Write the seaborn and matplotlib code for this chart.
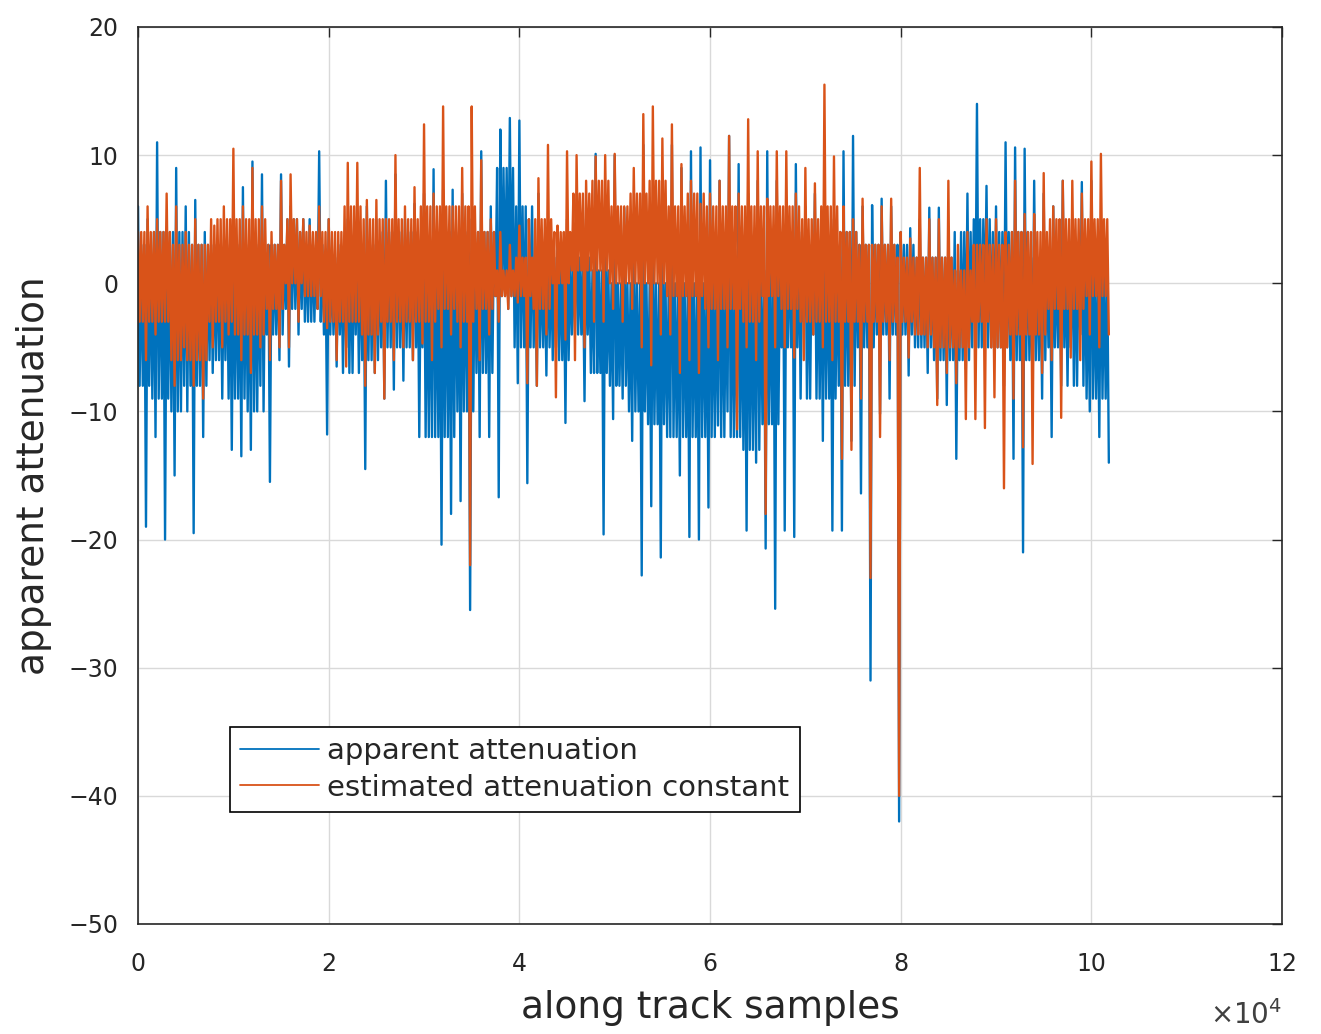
import numpy as np
import pandas as pd
import matplotlib
matplotlib.use("Agg")
import matplotlib.pyplot as plt
import seaborn as sns

# ---- data: per-bin (1000 samples) extreme values ----
bin_size = 1000
blue_hi = [6, 5, 11, 4, 9, 6, 6.5, 4, 3, 2,
           4, 7.5, 9.5, 8.5, 3, 8.5, 6, 4, 5, 10.3,
           5, 3, 5, 3, 6, 5, 8, 8.5, 5, 6.2,
           7, 8.9, 7.3, 7.3, 7, 5, 10.3, 6, 12, 12.9,
           12.7, 5, 7, 4, 3, 5, 6, 5, 10.1, 6,
           10, 5.9, 5, 10.8, 5, 8, 10.8, 9, 10.3, 10.6,
           9.6, 8, 11.5, 9.3, 7, 8, 10.3, 8, 5, 9.3,
           6, 7, 6, 5, 10.3, 11.5, 6, 6.1, 6.6, 6,
           4, 4.3, 5, 5.9, 5.9, 4, 1, 7, 14, 7.6,
           6, 11, 10.6, 10.5, 8, 7, 6, 8, 5, 7.9,
           8, 5]
blue_lo = [-19, -12, -20, -15, -8, -19.5, -12, -7, -9, -13,
           -13.5, -13, -8, -15.5, -6, -6.5, -4, -3, -2, -11.8,
           -6.5, -5, -4, -14.5, -7, -9, -8.3, -7.6, -6, -5,
           -12, -20.4, -18, -17, -25.5, -12, -12, -16.7, -2, -7.8,
           -15.6, -8, -7.2, -5, -10.9, -4, -9.2, -7, -19.6, -10.6,
           -9, -12.3, -22.8, -17.4, -21.4, -12, -15, -19.8, -20, -17.5,
           -11.1, -10, -12, -19.3, -14, -20.7, -25.4, -19.3, -19.8, -3,
           -4, -12.3, -19.3, -19.3, -12.3, -16.4, -31, -10.2, -9, -42,
           -7.2, -5, -7, -9, -9.5, -13.7, -6.7, -4, -3, -5,
           -8, -13.7, -21, -9, -9, -12, -8, -5, -4, -10,
           -12, -14]
orange_hi = [4, 6, 5, 7, 6, 4, 5, 3, 4.5, 6,
             10.5, 6, 9, 6, 4, 8, 8.5, 4, 4.5, 6,
             5, 4, 9.4, 9.4, 6.5, 6.5, 5, 10, 6, 7.5,
             12.4, 7, 13.8, 6, 9, 13.8, 9.6, 5, 4, 3,
             4.5, 5, 8.2, 10.8, 4.5, 10.3, 10, 8, 9.9, 10,
             10.1, 6, 9, 13.2, 13.8, 11.3, 12.4, 9.3, 8, 6.2,
             7, 8, 11.5, 7, 12.8, 10.3, 6.6, 10.3, 10.3, 7,
             9, 7.8, 15.5, 9.9, 6, 5, 6.6, 3, 6, 6.6,
             4, 3.5, 9, 5, 5, 8, 3, 4, 3, 5,
             5, 4, 8, 5.4, 5.4, 8.6, 6, 8, 8, 7,
             9.5, 10.1]
orange_lo = [-6, -4, -3, -8, -5, -8, -9, -5, -5, -3,
             -6, -7, -5, -6, -5, -5, -3, -1, -2, -3.5,
             -6, -6.5, -3, -8, -7, -9, -6, -5, -6, -4.7,
             -6, -5, -4, -5, -22, -6, -4, -3, -2, -1.5,
             -7.8, -8, -4, -8.9, -4.4, -6, -5, -3, -3, -2,
             -3, -2, -5, -6.4, -4, -4, -7, -6, -7, -5,
             -6, -5, -11.4, -5, -6, -18, -5, -5, -5.8, -6,
             -4, -5, -6, -13.7, -13, -9, -23, -12, -6, -40,
             -5.8, -4, -5, -9.5, -7, -7.8, -10.6, -10.6, -11.3, -8.9,
             -16, -9, -12.8, -14.1, -7, -6, -10.5, -5.8, -6, -4,
             -5, -4]

# typical (dense) range of each trace, per 2000 samples
core_size = 2000
blue_core_hi = [3, 4, 4, 3, 3, 3, 3, 3, 5, 3,
                2, 3, 3, 4, 4, 3, 4, 4, 4, 9,
                6, 2, 2, 2, 1, 0, 0, 0, 0, 0,
                1, 1, 1, 1, 4, 3, 3, 4, 3, 3,
                3, 2, 2, 4, 5, 4, 4, 2, 2, 3,
                1, 1]
blue_core_lo = [-8, -9, -10, -8, -6, -9, -10, -4, -2, -3,
                -4, -7, -6, -5, -5, -12, -12, -10, -7, -1,
                -5, -5, -6, -4, -7, -8, -10, -11, -12, -12,
                -12, -12, -13, -11, -5, -9, -9, -8, -5, -4,
                -4, -5, -6, -6, -5, -5, -6, -6, -5, -8,
                -9, -9]
orange_core_hi = [4, 4, 3, 3, 5, 5, 5, 3, 5, 4,
                  4, 6, 5, 5, 5, 6, 6, 6, 4, 1,
                  2, 5, 4, 7, 8, 6, 7, 8, 6, 7,
                  6, 6, 6, 6, 6, 5, 6, 4, 3, 3,
                  2, 2, 2, 1, 3, 3, 4, 4, 5, 5,
                  5, 5]
orange_core_lo = [-3, -3, -6, -6, -3, -4, -4, -2, 0, -1,
                  -3, -3, -4, -3, -3, -3, -2, -3, -2, -1,
                  -1, -2, 0, 1, 1, 0, 0, 0, -1, -1,
                  -2, -2, -3, -1, -2, -3, -3, -3, -3, -3,
                  -3, -4, -5, -5, -3, -5, -4, -4, -2, -2,
                  -1, -1]


def trace(hi, lo, core_hi, core_lo):
    """Per 1000-sample bin: spike top, swings across the typical range, spike bottom."""
    n = len(hi)
    idx = np.arange(n)
    c1 = idx * bin_size // core_size
    c2 = np.minimum((idx + 1) * bin_size // core_size, len(core_hi) - 1)
    chi = np.asarray(core_hi)
    clo = np.asarray(core_lo)
    parts = [np.asarray(hi), clo[c1], chi[c1], clo[c2], chi[c2], np.asarray(lo)]
    m = len(parts)
    xs = np.empty(m * n)
    ys = np.empty(m * n)
    for k, vals in enumerate(parts):
        xs[k::m] = idx * bin_size + k * bin_size / m
        ys[k::m] = vals
    return pd.DataFrame({"x": xs, "y": ys})


df_b = trace(blue_hi, blue_lo, blue_core_hi, blue_core_lo)
df_o = trace(orange_hi, orange_lo, orange_core_hi, orange_core_lo)

series_labels = ["apparent attenuation", "estimated attenuation constant"]
x_ticks = [0, 2, 4, 6, 8, 10, 12]
y_ticks = [-50, -40, -30, -20, -10, 0, 10, 20]

# ---- plot ----
sns.set_style("white")
plt.rcParams['font.family'] = ['DejaVu Sans']
fig = plt.figure(figsize=(13.21, 10.34), dpi=100)
ax = fig.add_axes([0.1045, 0.1064, 0.866, 0.8675])

blue = "#0072BD"
orange = "#D95319"
sns.lineplot(data=df_b, x="x", y="y", color=blue, lw=1.7, ax=ax,
             estimator=None, sort=False, label=series_labels[0])
sns.lineplot(data=df_o, x="x", y="y", color=orange, lw=1.7, ax=ax,
             estimator=None, sort=False, label=series_labels[1])

ax.set_xlim(0, 120000)
ax.set_ylim(-50, 20)
ax.set_xticks([t * 1e4 for t in x_ticks])
ax.set_xticklabels([str(t) for t in x_ticks])
ax.set_yticks(y_ticks)
ax.set_yticklabels([str(t).replace("-", "\u2212") for t in y_ticks])
ax.grid(True, color="#d9d9d9", lw=1.0)
ax.set_axisbelow(True)
ax.tick_params(direction="in", length=7, width=1, colors="#262626",
               labelsize=17, top=True, right=True)
ax.tick_params(axis="x", pad=20)
ax.tick_params(axis="y", pad=14)
for s in ax.spines.values():
    s.set_color("#262626")
    s.set_linewidth(1.2)

ax.set_xlabel("along track samples", fontsize=27, color="#262626", labelpad=10)
ax.set_ylabel("apparent attenuation", fontsize=27, color="#262626", labelpad=12)
ax.text(1.0, -0.085, r"$\times 10^{4}$", transform=ax.transAxes,
        fontsize=20, color="#404040", ha="right", va="top")

leg = ax.legend(loc="lower left", bbox_to_anchor=(0.08, 0.125), fontsize=21,
                frameon=True, fancybox=False, edgecolor="black", framealpha=1,
                handlelength=2.7, borderpad=0.35, labelspacing=0.3,
                handletextpad=0.3, borderaxespad=0)
leg.get_frame().set_linewidth(1.2)
for line in leg.get_lines():
    line.set_linewidth(1.3)

fig.savefig("out.png", dpi=100)
